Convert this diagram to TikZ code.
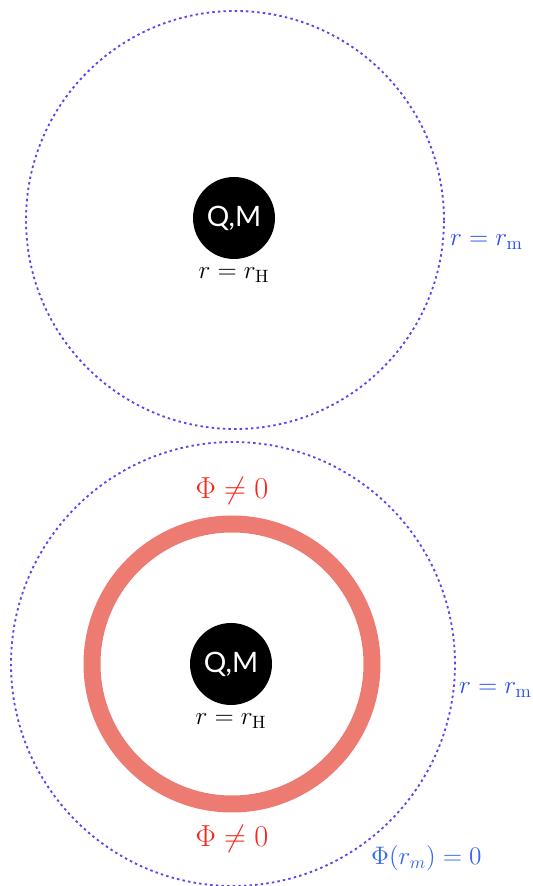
\documentclass[tikz,border=0pt]{standalone}
\usepackage{amsmath,amssymb}
\usepackage{fontspec}
\usepackage{xcolor}
\usepackage{tikz}
\usetikzlibrary{positioning}
\newfontfamily\qmfont{Lato}
\definecolor{boundblue}{HTML}{6042EE}
\definecolor{labblue}{HTML}{2A4CF5}
\definecolor{phiblue}{HTML}{3568F2}
\definecolor{ringred}{HTML}{EE7B72}
\definecolor{phired}{HTML}{F8261A}

\begin{document}
\begin{tikzpicture}[
    bhole/.style={circle,fill=black,minimum size=1.64cm,inner sep=0pt,
      text=white,font=\qmfont\fontsize{16}{19}\selectfont},
    bound/.style={boundblue,line width=1.05pt,dash pattern=on 1.4pt off 1.8pt},
    hlabel/.style={font=\fontsize{14.5}{17}\selectfont},
    mlabel/.style={labblue,font=\fontsize{15}{18}\selectfont,anchor=west},
    philab/.style={phired,font=\fontsize{18.5}{22}\selectfont}]
  \useasboundingbox (0,0) rectangle (10.66,17.72);
  % Top: bare black hole
  \draw[bound] (4.70,13.32) circle (4.18);
  \node[bhole] (bhTop) at (4.68,13.36) {Q,M};
  \node[hlabel,below=0.05cm of bhTop] (rhTop) {$r=r_{\mathrm{H}}$};
  \node[mlabel] (rmTop) at (8.88,12.88) {$r=r_{\mathrm{m}}$};
  % Bottom: hairy black hole
  \draw[bound] (4.66,4.44) circle (4.44);
  \draw[ringred,line width=0.34cm] (4.64,4.44) circle (2.80);
  \node[bhole] (bhBot) at (4.62,4.44) {Q,M};
  \node[hlabel,below=0.05cm of bhBot] (rhBot) {$r=r_{\mathrm{H}}$};
  \node[mlabel] (rmBot) at (9.06,3.92) {$r=r_{\mathrm{m}}$};
  \node[philab] (phiUp) at (4.64,7.90) {$\Phi\neq0$};
  \node[philab] (phiDn) at (4.64,0.95) {$\Phi\neq0$};
  \node[phiblue,font=\fontsize{14.5}{17}\selectfont,anchor=west] (phiM) at (7.30,0.55) {$\Phi(r_m)=0$};
\end{tikzpicture}
\end{document}
